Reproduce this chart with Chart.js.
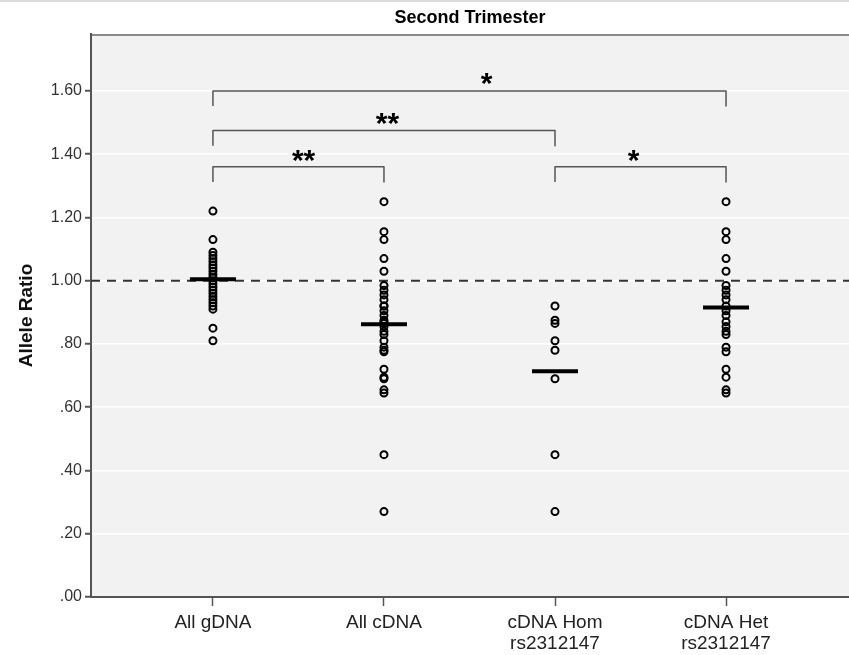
<!DOCTYPE html>
<html>
<head>
<meta charset="utf-8">
<script src="https://cdn.jsdelivr.net/npm/chart.js@4/dist/chart.umd.min.js"></script>
<style>
  html, body { margin: 0; padding: 0; background: #fff; }
  #wrap { width: 849px; height: 655px; }
</style>
</head>
<body>
<div id="wrap"><canvas id="chart" width="849" height="655"></canvas></div>
<script>
// categories and values
const categories = [['All gDNA'], ['All cDNA'], ['cDNA Hom', 'rs2312147'], ['cDNA Het', 'rs2312147']];

const allGDNA = [1.22, 1.13, 1.09, 1.08, 1.07, 1.06, 1.05, 1.04, 1.03, 1.02, 1.01, 1.00,
  0.99, 0.98, 0.97, 0.96, 0.95, 0.94, 0.93, 0.92, 0.91, 0.85, 0.81];
const allCDNA = [1.25, 1.155, 1.13, 1.07, 1.03, 0.985, 0.97, 0.955, 0.94, 0.92, 0.92, 0.905,
  0.89, 0.875, 0.87, 0.865, 0.855, 0.84, 0.83, 0.81, 0.79, 0.78, 0.775, 0.72, 0.695, 0.69,
  0.655, 0.645, 0.45, 0.27];
const cdnaHom = [0.92, 0.875, 0.865, 0.81, 0.78, 0.69, 0.45, 0.27];
const cdnaHet = [1.25, 1.155, 1.13, 1.07, 1.03, 0.985, 0.97, 0.955, 0.94, 0.92, 0.905, 0.89,
  0.87, 0.855, 0.84, 0.83, 0.79, 0.775, 0.72, 0.695, 0.655, 0.645];
const groupMeans = [1.005, 0.862, 0.714, 0.915];

const yTicks = [0, 0.2, 0.4, 0.6, 0.8, 1.0, 1.2, 1.4, 1.6];
const refLine = 1.0;

// significance brackets: [from category, to category, height]
const brackets = [[0, 3, 1.60], [0, 2, 1.475], [0, 1, 1.36], [2, 3, 1.36]];
const bracketDrop = 0.048;
// stars: [x, y, text]
const stars = [[1.6, 1.647, '*'], [1.02, 1.52, '**'], [0.53, 1.404, '**'], [2.46, 1.404, '*']];

const groups = [allGDNA, allCDNA, cdnaHom, cdnaHet];
const axisColor = '#555';

Chart.defaults.font.family = '"Liberation Sans", Arial, sans-serif';
Chart.defaults.color = '#222';

function toPoints(values, i) {
  return values.map(v => ({ x: i, y: v }));
}

const datasets = [];

datasets.push({
  label: 'mean',
  data: groupMeans.map((m, i) => ({ x: i, y: m })),
  pointStyle: 'line',
  pointRadius: 23,
  borderWidth: 4,
  borderColor: '#000',
});

groups.forEach((g, i) => {
  datasets.push({
    label: categories[i].join(' '),
    data: toPoints(g, i),
    pointStyle: 'circle',
    pointRadius: 3.5,
    borderWidth: 2,
    borderColor: '#000',
    backgroundColor: 'rgba(0,0,0,0)',
  });
});

brackets.forEach(([a, b, h]) => {
  datasets.push({
    label: 'bracket',
    data: [
      { x: a, y: h - bracketDrop },
      { x: a, y: h },
      { x: b, y: h },
      { x: b, y: h - bracketDrop },
    ],
    showLine: true,
    pointRadius: 0,
    borderColor: '#555',
    borderWidth: 1.5,
    borderJoinStyle: 'round',
    fill: false,
  });
});

const backdrop = {
  id: 'backdrop',
  beforeDraw(chart) {
    const { ctx, chartArea } = chart;
    ctx.save();
    ctx.fillStyle = '#f2f2f2';
    ctx.fillRect(chartArea.left, chartArea.top, chartArea.right - chartArea.left, chartArea.bottom - chartArea.top);
    ctx.strokeStyle = '#d0d0d0';
    ctx.lineWidth = 1.5;
    ctx.beginPath();
    ctx.moveTo(0, 1);
    ctx.lineTo(chart.width, 1);
    ctx.stroke();
    ctx.strokeStyle = '#8a8a8a';
    ctx.lineWidth = 2;
    ctx.beginPath();
    ctx.moveTo(chartArea.left, chartArea.top + 1);
    ctx.lineTo(chartArea.right, chartArea.top + 1);
    ctx.stroke();
    ctx.restore();
  },
  beforeDatasetsDraw(chart) {
    const { ctx, chartArea, scales } = chart;
    const y = scales.y.getPixelForValue(refLine);
    ctx.save();
    ctx.strokeStyle = '#333';
    ctx.lineWidth = 2;
    ctx.setLineDash([9, 7]);
    ctx.beginPath();
    ctx.moveTo(chartArea.left, y);
    ctx.lineTo(chartArea.right, y);
    ctx.stroke();
    ctx.restore();
  },
  afterDatasetsDraw(chart) {
    const { ctx, scales } = chart;
    ctx.save();
    ctx.fillStyle = '#000';
    ctx.font = 'bold 30px "Liberation Sans", Arial, sans-serif';
    ctx.textAlign = 'center';
    ctx.textBaseline = 'alphabetic';
    stars.forEach(([sx, sy, txt]) => {
      const px = scales.x.getPixelForValue(sx);
      const py = scales.y.getPixelForValue(sy);
      ctx.fillText(txt, px, py + 0.57 * 30);
    });
    ctx.restore();
  },
};

new Chart(document.getElementById('chart'), {
  type: 'scatter',
  data: { datasets },
  plugins: [backdrop],
  options: {
    responsive: false,
    animation: false,
    layout: { padding: 0, autoPadding: false },
    plugins: {
      legend: { display: false },
      tooltip: { enabled: false },
      title: {
        display: true,
        text: 'Second Trimester',
        fullSize: false,
        color: '#000',
        font: { size: 18, weight: 'bold', lineHeight: 1.2 },
        padding: { top: 7, bottom: 5.4 },
      },
    },
    scales: {
      x: {
        type: 'linear',
        min: -0.713,
        max: 3.719,
        afterBuildTicks: scale => { scale.ticks = categories.map((c, i) => ({ value: i })); },
        afterFit: scale => {
          scale.height = 58;
          scale.paddingLeft = 0;
          scale.paddingRight = 0;
        },
        ticks: {
          callback: v => categories[v],
          color: '#222',
          font: { size: 19, lineHeight: 1.1 },
          padding: 6,
          maxRotation: 0,
          autoSkip: false,
        },
        grid: {
          drawOnChartArea: false,
          tickLength: 9,
          tickColor: axisColor,
          tickWidth: 1.5,
        },
        border: { color: axisColor, width: 2 },
      },
      y: {
        min: 0,
        max: 1.78,
        afterBuildTicks: scale => { scale.ticks = yTicks.map(v => ({ value: v })); },
        afterFit: scale => { scale.width = 91; },
        ticks: {
          callback: v => (v < 1 ? v.toFixed(2).slice(1) : v.toFixed(2)),
          color: '#333',
          font: { size: 16 },
          padding: 3,
        },
        grid: {
          color: '#ffffff',
          lineWidth: 1.5,
          tickLength: 6,
          tickColor: axisColor,
          tickWidth: 2,
        },
        border: { color: axisColor, width: 2 },
        title: {
          display: true,
          text: 'Allele Ratio',
          color: '#111',
          font: { size: 19, weight: 'bold', lineHeight: 1.2 },
          padding: { top: 15, bottom: 0 },
        },
      },
    },
  },
});
</script>
</body>
</html>
